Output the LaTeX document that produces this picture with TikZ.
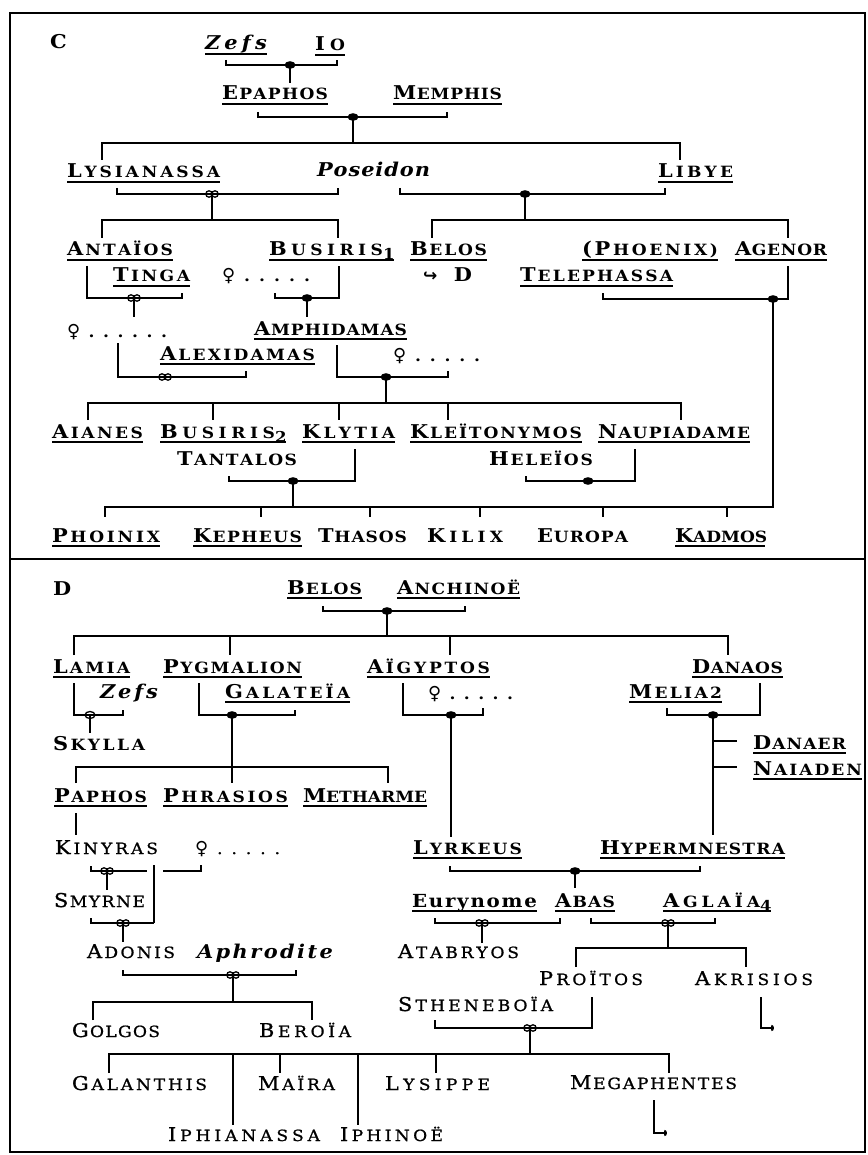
\documentclass[tikz,border=0pt]{standalone}
\usepackage{fontspec}
\setmainfont{DejaVu Serif}[FakeStretch=1.1]
\newfontfamily\lightf{DejaVu Serif}[FakeStretch=1.1, FakeBold=1]
\newfontfamily\symf{DejaVu Sans}
\usetikzlibrary{arrows.meta}
\makeatletter
\def\spreadtext#1{\spr@a#1\@nil}
\def\spr@a#1{\ifx#1\@nil\else#1\expandafter\spr@b\fi}
\def\spr@b#1{\ifx#1\@nil\else\hfil#1\expandafter\spr@b\fi}
\makeatother
\newcommand\NM[3]{\makebox[#1pt][s]{{\fontsize{19}{19}\selectfont #2}\hfil{\fontsize{15.5}{15.5}\selectfont\spreadtext{#3}}}}
\newcommand\IT[2]{\makebox[#1pt][s]{\fontsize{19}{19}\selectfont\itshape\spreadtext{#2}}}
\newcommand\LC[2]{\makebox[#1pt][s]{\fontsize{18}{18}\selectfont\spreadtext{#2}}}
\newcommand\QD[2]{\makebox[#1pt][s]{{\symf\fontsize{18}{18}\selectfont ♀}\hfil{\fontsize{15.5}{15.5}\selectfont\spreadtext{#2}}}}
\newcommand\SB[1]{\raisebox{-4pt}{\fontsize{15}{15}\selectfont #1}}
\newcommand\AR{{\symf\fontsize{17}{17}\selectfont ↪}}
\tikzset{
  ln/.style={line width=2.2pt},
  ulin/.style={line width=2.4pt},
  nb/.style={inner sep=0pt, outer sep=0pt, anchor=base west, font=\bfseries},
  nl/.style={inner sep=0pt, outer sep=0pt, anchor=base west, font=\lightf},
  fm/.pic={\fill (0,0) ellipse [x radius=5.5pt, y radius=3.8pt];},
  om/.pic={\draw[line width=1.3pt] (-3pt,0) circle [radius=3.2pt] (3pt,0) circle [radius=3.2pt];},
  oa/.pic={\draw[line width=1.3pt] (0,0) ellipse [x radius=5pt, y radius=3.5pt];},
}
\begin{document}
\begin{tikzpicture}[x=1pt,y=-1pt]
\useasboundingbox (0,0) rectangle (867,1155);
\fill[white] (0,0) rectangle (867,1155);
\draw[line width=2pt] (10,13) rectangle (865,1152);
\draw[line width=2pt] (10,559) -- (865,559);

% ---------- Panel C ----------
\node[nb] (labC) at (50,49) {\fontsize{19}{19}\selectfont C};
\node[nb] (zefs) at (205,50) {\IT{62}{Zefs}};
\node[nb] (io) at (315,51) {\NM{30}{I}{O}};
\node[nb] (epaphos) at (222,100) {\NM{106}{E}{PAPHOS}};
\node[nb] (memphis) at (393,100) {\NM{109}{M}{EMPHIS}};
\node[nb] (lysianassa) at (67,178) {\NM{153}{L}{YSIANASSA}};
\node[nb] (poseidon) at (317,177) {\IT{113}{Poseidon}};
\node[nb] (libye) at (658,178) {\NM{75}{L}{IBYE}};
\node[nb] (antaios) at (67,256) {\NM{106}{A}{NTAÏOS}};
\node[nb] (busirisA) at (269,256) {\NM{114}{B}{USIRIS}\SB{1}};
\node[nb] (belos) at (410,256) {\NM{77}{B}{ELOS}};
\node[nb] (phoenix) at (582,256) {\NM{136}{(\hfil P}{HOENIX)}};
\node[nb] (agenor) at (735,256) {\NM{92}{A}{GENOR}};
\node[nb] (tinga) at (113,282) {\NM{77}{T}{INGA}};
\node[nb] (qA) at (222,282) {\QD{88}{.....}};
\node[nb] (toD) at (423,282) {\makebox[49pt][s]{\AR\hfil{\fontsize{19}{19}\selectfont D}}};
\node[nb] (telephassa) at (520,282) {\NM{153}{T}{ELEPHASSA}};
\node[nb] (qB) at (67,337) {\QD{100}{......}};
\node[nb] (amphidamas) at (254,335) {\NM{153}{A}{MPHIDAMAS}};
\node[nb] (alexidamas) at (160,360) {\NM{155}{A}{LEXIDAMAS}};
\node[nb] (qC) at (393,361) {\QD{87}{.....}};
\node[nb] (aianes) at (52,438) {\NM{91}{A}{IANES}};
\node[nb] (busirisB) at (160,438) {\NM{115}{B}{USIRIS}\SB{2}};
\node[nb] (klytia) at (302,438) {\NM{93}{K}{LYTIA}};
\node[nb] (kleitonymos) at (410,438) {\NM{172}{K}{LEÏTONYMOS}};
\node[nb] (naupiadame) at (598,438) {\NM{152}{N}{AUPIADAME}};
\node[nb] (tantalos) at (177,465) {\NM{120}{T}{ANTALOS}};
\node[nb] (heleios) at (489,465) {\NM{104}{H}{ELEÏOS}};
\node[nb] (phoinix) at (52,542) {\NM{108}{P}{HOINIX}};
\node[nb] (kepheus) at (193,542) {\NM{109}{K}{EPHEUS}};
\node[nb] (thasos) at (318,542) {\NM{89}{T}{HASOS}};
\node[nb] (kilix) at (427,542) {\NM{76}{K}{ILIX}};
\node[nb] (europa) at (537,542) {\NM{91}{E}{UROPA}};
\node[nb] (kadmos) at (675,542) {\NM{90}{K}{ADMOS}};

% ---------- Panel D ----------
\node[nb] (labD) at (53,595) {\fontsize{19}{19}\selectfont D};
\node[nb] (belosD) at (287,594) {\NM{75}{B}{ELOS}};
\node[nb] (anchinoe) at (397,594) {\NM{123}{A}{NCHINOË}};
\node[nb] (lamia) at (53,673) {\NM{77}{L}{AMIA}};
\node[nb] (pygmalion) at (163,673) {\NM{139}{P}{YGMALION}};
\node[nb] (aigyptos) at (367,673) {\NM{123}{A}{ÏGYPTOS}};
\node[nb] (danaos) at (692,673) {\NM{91}{D}{ANAOS}};
\node[nb] (zefsD) at (100,698) {\IT{58}{Zefs}};
\node[nb] (galateia) at (225,698) {\NM{125}{G}{ALATEÏA}};
\node[nb] (qD) at (428,699) {\QD{85}{.....}};
\node[nb] (melia) at (629,698) {\NM{93}{M}{ELIA2}};
\node[nb] (skylla) at (53,750) {\NM{92}{S}{KYLLA}};
\node[nb] (danaer) at (753,749) {\NM{93}{D}{ANAER}};
\node[nb] (naiaden) at (753,775) {\NM{109}{N}{AIADEN}};
\node[nb] (paphos) at (54,802) {\NM{93}{P}{APHOS}};
\node[nb] (phrasios) at (163,802) {\NM{125}{P}{HRASIOS}};
\node[nb] (metharme) at (303,802) {\NM{124}{M}{ETHARME}};
\node[nl] (kinyras) at (55,854) {\NM{103}{K}{INYRAS}};
\node[nl] (qE) at (195,854) {\QD{85}{.....}};
\node[nb] (lyrkeus) at (413,854) {\NM{109}{L}{YRKEUS}};
\node[nb] (hypermnestra) at (600,854) {\NM{185}{H}{YPERMNESTRA}};
\node[nl] (smyrne) at (54,907) {\NM{91}{S}{MYRNE}};
\node[nb] (eurynome) at (412,907) {\LC{125}{Eurynome}};
\node[nb] (abas) at (555,907) {\NM{60}{A}{BAS}};
\node[nb] (aglaia) at (663,907) {\NM{97}{A}{GLAÏA}\SB{4}};
\node[nl] (adonis) at (87,958) {\NM{88}{A}{DONIS}};
\node[nb] (aphrodite) at (197,958) {\IT{136}{Aphrodite}};
\node[nl] (atabryos) at (398,958) {\NM{121}{A}{TABRYOS}};
\node[nl] (proitos) at (539,985) {\NM{104}{P}{ROÏTOS}};
\node[nl] (akrisios) at (695,985) {\NM{118}{A}{KRISIOS}};
\node[nl] (stheneboia) at (398,1011) {\NM{155}{S}{THENEBOÏA}};
\node[nl] (golgos) at (72,1037) {\NM{88}{G}{OLGOS}};
\node[nl] (beroia) at (259,1037) {\NM{92}{B}{EROÏA}};
\node[nl] (galanthis) at (72,1090) {\NM{135}{G}{ALANTHIS}};
\node[nl] (maira) at (258,1090) {\NM{77}{M}{AÏRA}};
\node[nl] (lysippe) at (385,1090) {\NM{105}{L}{YSIPPE}};
\node[nl] (megaphentes) at (570,1089) {\NM{167}{M}{EGAPHENTES}};
\node[nl] (iphianassa) at (168,1141) {\NM{152}{I}{PHIANASSA}};
\node[nl] (iphinoe) at (340,1141) {\NM{103}{I}{PHINOË}};

% underlines
\foreach \n in {zefs,io,epaphos,memphis,lysianassa,libye,antaios,busirisA,belos,phoenix,agenor,tinga,telephassa,amphidamas,alexidamas,aianes,busirisB,klytia,kleitonymos,naupiadame,phoinix,kepheus,kadmos,belosD,anchinoe,lamia,pygmalion,aigyptos,danaos,galateia,melia,paphos,phrasios,metharme,danaer,naiaden,lyrkeus,hypermnestra,eurynome,abas,aglaia}
  \draw[ulin] ([yshift=-3.8pt]\n.base west) -- ([yshift=-3.8pt]\n.base east);

% ---------- connectors C ----------
\coordinate (mZI) at (290,65);
\draw[ln] (226,60) |- (337,65) -- (337,60);
\draw[ln] (mZI) -- (290,83);
\coordinate (mEM) at (353,117);
\draw[ln] (258,112) |- (447,117) -- (447,112);
\draw[ln] (mEM) -- (353,143);
\draw[ln] (102,160) |- (680,143) -- (680,160);
\coordinate (mLP) at (212,194);
\draw[ln] (117,188) |- (338,194) -- (338,188);
\draw[ln] (mLP) -- (212,220);
\coordinate (mPL) at (525,194);
\draw[ln] (400,188) |- (665,194) -- (665,188);
\draw[ln] (mPL) -- (525,220);
\draw[ln] (102,238) |- (338,220) -- (338,238);
\draw[ln] (432,238) |- (788,220) -- (788,238);
\coordinate (mAT) at (134,298);
\draw[ln] (87,266) |- (182,298) -- (182,293);
\draw[ln] (mAT) -- (134,317);
\coordinate (mQB) at (307,298);
\draw[ln] (275,293) |- (339,298) -- (339,266);
\draw[ln] (mQB) -- (307,317);
\coordinate (mTA) at (773,299);
\draw[ln] (603,293) |- (788,299) -- (788,266);
\draw[ln] (mTA) |- (105,507) -- (105,517);
\foreach \x in {261,370,480,603,727} \draw[ln] (\x,507) -- (\x,517);
\coordinate (mQA) at (165,377);
\draw[ln] (118,343) |- (246,377) -- (246,371);
\coordinate (mAQ) at (386,377);
\draw[ln] (337,345) |- (448,377) -- (448,371);
\draw[ln] (mAQ) -- (386,403);
\draw[ln] (88,420) |- (681,403) -- (681,420);
\foreach \x in {213,339,448} \draw[ln] (\x,403) -- (\x,420);
\coordinate (mTK) at (293,481);
\draw[ln] (229,476) |- (355,481) -- (355,449);
\draw[ln] (mTK) -- (293,507);
\coordinate (mHN) at (588,481);
\draw[ln] (526,476) |- (635,481) -- (635,449);

% ---------- connectors D ----------
\coordinate (mBA) at (387,611);
\draw[ln] (323,606) |- (465,611) -- (465,606);
\draw[ln] (mBA) -- (387,636);
\draw[ln] (74,655) |- (728,636) -- (728,655);
\foreach \x in {230,450} \draw[ln] (\x,636) -- (\x,655);
\coordinate (mLZ) at (90,715);
\draw[ln] (74,683) |- (123,715) -- (123,710);
\draw[ln] (mLZ) -- (90,733);
\coordinate (mPG) at (232,715);
\draw[ln] (199,683) |- (295,715) -- (295,710);
\draw[ln] (mPG) -- (232,783);
\draw[ln] (76,783) |- (388,767) -- (388,783);
\draw[ln] (76,813) -- (76,835);
\coordinate (mAQ2) at (451,715);
\draw[ln] (403,683) |- (483,715) -- (483,708);
\draw[ln] (mAQ2) -- (451,837);
\coordinate (mMD) at (713,715);
\draw[ln] (667,708) |- (760,715) -- (760,683);
\draw[ln] (mMD) -- (713,835);
\draw[ln] (713,741) -- (737,741);
\draw[ln] (713,767) -- (737,767);
\coordinate (mKQ) at (107,871);
\draw[ln] (91,866) |- (147,871);
\draw[ln] (163,871) -| (201,865);
\draw[ln] (mKQ) -- (107,890);
\draw[ln] (154,865) -- (154,923);
\coordinate (mSK) at (123,923);
\draw[ln] (91,918) |- (154,923);
\draw[ln] (mSK) -- (123,942);
\coordinate (mAA) at (233,975);
\draw[ln] (123,970) |- (296,975) -- (296,970);
\draw[ln] (mAA) -- (233,1002);
\draw[ln] (93,1020) |- (312,1002) -- (312,1020);
\coordinate (mLH) at (575,871);
\draw[ln] (450,866) |- (700,871) -- (700,866);
\draw[ln] (mLH) -- (575,888);
\coordinate (mEA) at (482,923);
\draw[ln] (435,918) |- (560,923) -- (560,918);
\draw[ln] (mEA) -- (482,943);
\coordinate (mAG) at (668,923);
\draw[ln] (591,918) |- (715,923) -- (715,918);
\draw[ln] (mAG) -- (668,948);
\draw[ln] (576,967) |- (746,948) -- (746,967);
\draw[ln,-{To[length=3pt]}] (761,997) |- (774,1028);
\coordinate (mSP) at (530,1028);
\draw[ln] (435,1020) |- (592,1028) -- (592,997);
\draw[ln] (mSP) -- (530,1054);
\draw[ln] (109,1073) |- (669,1054) -- (669,1073);
\foreach \x in {280,436} \draw[ln] (\x,1054) -- (\x,1073);
\foreach \x in {233,358} \draw[ln] (\x,1054) -- (\x,1125);
\draw[ln,-{To[length=3pt]}] (654,1100) |- (667,1133);

% markers
\foreach \m in {mZI,mEM,mPL,mQB,mTA,mAQ,mTK,mHN,mBA,mPG,mAQ2,mMD,mLH} \pic at (\m) {fm};
\foreach \m in {mLP,mAT,mQA,mKQ,mSK,mAA,mEA,mAG,mSP} \pic at (\m) {om};
\pic at (mLZ) {oa};
\end{tikzpicture}
\end{document}
